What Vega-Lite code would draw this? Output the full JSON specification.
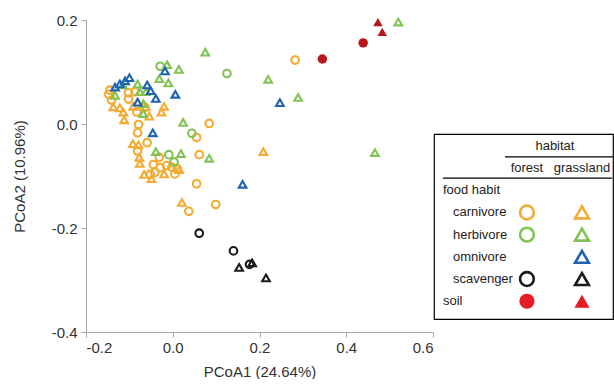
{
  "$schema": "https://vega.github.io/schema/vega-lite/v6.json",
  "padding": {"left": 12, "top": 13, "right": 0, "bottom": 0},
  "bounds": "flush",
  "spacing": 1,
  "config": {
    "font": "Liberation Sans",
    "view": {"stroke": null},
    "axis": {"labelFont": "Liberation Sans", "titleFont": "Liberation Sans"}
  },
  "datasets": {
    "pts": [
      {"x": -0.145, "y": 0.065, "food": "carnivore", "habitat": "forest"},
      {"x": -0.141, "y": 0.046, "food": "carnivore", "habitat": "forest"},
      {"x": -0.148, "y": 0.057, "food": "carnivore", "habitat": "forest"},
      {"x": -0.102, "y": 0.060, "food": "carnivore", "habitat": "forest"},
      {"x": -0.087, "y": 0.062, "food": "carnivore", "habitat": "forest"},
      {"x": -0.102, "y": 0.048, "food": "carnivore", "habitat": "forest"},
      {"x": -0.083, "y": 0.023, "food": "carnivore", "habitat": "forest"},
      {"x": -0.064, "y": 0.032, "food": "carnivore", "habitat": "forest"},
      {"x": -0.079, "y": -0.001, "food": "carnivore", "habitat": "forest"},
      {"x": -0.081, "y": -0.017, "food": "carnivore", "habitat": "forest"},
      {"x": -0.059, "y": -0.036, "food": "carnivore", "habitat": "forest"},
      {"x": -0.081, "y": -0.052, "food": "carnivore", "habitat": "forest"},
      {"x": -0.031, "y": -0.064, "food": "carnivore", "habitat": "forest"},
      {"x": -0.045, "y": -0.078, "food": "carnivore", "habitat": "forest"},
      {"x": -0.029, "y": -0.084, "food": "carnivore", "habitat": "forest"},
      {"x": -0.014, "y": -0.080, "food": "carnivore", "habitat": "forest"},
      {"x": -0.002, "y": -0.083, "food": "carnivore", "habitat": "forest"},
      {"x": 0.010, "y": -0.086, "food": "carnivore", "habitat": "forest"},
      {"x": -0.041, "y": -0.093, "food": "carnivore", "habitat": "forest"},
      {"x": -0.052, "y": -0.097, "food": "carnivore", "habitat": "forest"},
      {"x": 0.005, "y": -0.096, "food": "carnivore", "habitat": "forest"},
      {"x": 0.055, "y": -0.115, "food": "carnivore", "habitat": "forest"},
      {"x": 0.037, "y": -0.168, "food": "carnivore", "habitat": "forest"},
      {"x": 0.099, "y": -0.155, "food": "carnivore", "habitat": "forest"},
      {"x": 0.061, "y": -0.059, "food": "carnivore", "habitat": "forest"},
      {"x": 0.084, "y": 0.001, "food": "carnivore", "habitat": "forest"},
      {"x": 0.055, "y": -0.026, "food": "carnivore", "habitat": "forest"},
      {"x": 0.282, "y": 0.123, "food": "carnivore", "habitat": "forest"},
      {"x": -0.137, "y": 0.033, "food": "carnivore", "habitat": "grassland"},
      {"x": -0.122, "y": 0.031, "food": "carnivore", "habitat": "grassland"},
      {"x": -0.114, "y": 0.023, "food": "carnivore", "habitat": "grassland"},
      {"x": -0.112, "y": 0.008, "food": "carnivore", "habitat": "grassland"},
      {"x": -0.091, "y": 0.034, "food": "carnivore", "habitat": "grassland"},
      {"x": -0.092, "y": -0.038, "food": "carnivore", "habitat": "grassland"},
      {"x": -0.079, "y": -0.040, "food": "carnivore", "habitat": "grassland"},
      {"x": -0.077, "y": -0.064, "food": "carnivore", "habitat": "grassland"},
      {"x": -0.076, "y": -0.076, "food": "carnivore", "habitat": "grassland"},
      {"x": -0.066, "y": -0.097, "food": "carnivore", "habitat": "grassland"},
      {"x": -0.049, "y": -0.105, "food": "carnivore", "habitat": "grassland"},
      {"x": -0.020, "y": -0.096, "food": "carnivore", "habitat": "grassland"},
      {"x": 0.015, "y": -0.088, "food": "carnivore", "habitat": "grassland"},
      {"x": -0.054, "y": 0.015, "food": "carnivore", "habitat": "grassland"},
      {"x": -0.062, "y": 0.033, "food": "carnivore", "habitat": "grassland"},
      {"x": -0.020, "y": 0.034, "food": "carnivore", "habitat": "grassland"},
      {"x": -0.026, "y": 0.023, "food": "carnivore", "habitat": "grassland"},
      {"x": 0.021, "y": -0.151, "food": "carnivore", "habitat": "grassland"},
      {"x": 0.209, "y": -0.053, "food": "carnivore", "habitat": "grassland"},
      {"x": -0.029, "y": 0.111, "food": "herbivore", "habitat": "forest"},
      {"x": 0.125, "y": 0.097, "food": "herbivore", "habitat": "forest"},
      {"x": 0.044, "y": -0.018, "food": "herbivore", "habitat": "forest"},
      {"x": -0.009, "y": -0.059, "food": "herbivore", "habitat": "forest"},
      {"x": 0.003, "y": -0.073, "food": "herbivore", "habitat": "forest"},
      {"x": 0.075, "y": 0.138, "food": "herbivore", "habitat": "grassland"},
      {"x": -0.013, "y": 0.114, "food": "herbivore", "habitat": "grassland"},
      {"x": 0.014, "y": 0.105, "food": "herbivore", "habitat": "grassland"},
      {"x": -0.031, "y": 0.087, "food": "herbivore", "habitat": "grassland"},
      {"x": -0.010, "y": 0.079, "food": "herbivore", "habitat": "grassland"},
      {"x": 0.220, "y": 0.086, "food": "herbivore", "habitat": "grassland"},
      {"x": 0.289, "y": 0.051, "food": "herbivore", "habitat": "grassland"},
      {"x": 0.520, "y": 0.196, "food": "herbivore", "habitat": "grassland"},
      {"x": 0.466, "y": -0.055, "food": "herbivore", "habitat": "grassland"},
      {"x": -0.115, "y": 0.075, "food": "herbivore", "habitat": "grassland"},
      {"x": -0.081, "y": 0.077, "food": "herbivore", "habitat": "grassland"},
      {"x": -0.076, "y": 0.062, "food": "herbivore", "habitat": "grassland"},
      {"x": -0.062, "y": 0.062, "food": "herbivore", "habitat": "grassland"},
      {"x": -0.133, "y": 0.055, "food": "herbivore", "habitat": "grassland"},
      {"x": -0.068, "y": 0.039, "food": "herbivore", "habitat": "grassland"},
      {"x": -0.068, "y": 0.020, "food": "herbivore", "habitat": "grassland"},
      {"x": 0.024, "y": 0.003, "food": "herbivore", "habitat": "grassland"},
      {"x": -0.039, "y": -0.053, "food": "herbivore", "habitat": "grassland"},
      {"x": 0.019, "y": -0.057, "food": "herbivore", "habitat": "grassland"},
      {"x": 0.084, "y": -0.066, "food": "herbivore", "habitat": "grassland"},
      {"x": -0.100, "y": 0.089, "food": "omnivore", "habitat": "grassland"},
      {"x": -0.110, "y": 0.083, "food": "omnivore", "habitat": "grassland"},
      {"x": -0.122, "y": 0.077, "food": "omnivore", "habitat": "grassland"},
      {"x": -0.133, "y": 0.071, "food": "omnivore", "habitat": "grassland"},
      {"x": -0.059, "y": 0.075, "food": "omnivore", "habitat": "grassland"},
      {"x": -0.051, "y": 0.064, "food": "omnivore", "habitat": "grassland"},
      {"x": -0.018, "y": 0.102, "food": "omnivore", "habitat": "grassland"},
      {"x": 0.006, "y": 0.057, "food": "omnivore", "habitat": "grassland"},
      {"x": -0.039, "y": 0.049, "food": "omnivore", "habitat": "grassland"},
      {"x": -0.081, "y": 0.042, "food": "omnivore", "habitat": "grassland"},
      {"x": -0.046, "y": -0.017, "food": "omnivore", "habitat": "grassland"},
      {"x": 0.161, "y": -0.116, "food": "omnivore", "habitat": "grassland"},
      {"x": 0.247, "y": 0.041, "food": "omnivore", "habitat": "grassland"},
      {"x": 0.061, "y": -0.210, "food": "scavenger", "habitat": "forest"},
      {"x": 0.140, "y": -0.244, "food": "scavenger", "habitat": "forest"},
      {"x": 0.177, "y": -0.270, "food": "scavenger", "habitat": "forest"},
      {"x": 0.153, "y": -0.276, "food": "scavenger", "habitat": "grassland"},
      {"x": 0.183, "y": -0.267, "food": "scavenger", "habitat": "grassland"},
      {"x": 0.215, "y": -0.296, "food": "scavenger", "habitat": "grassland"},
      {"x": 0.345, "y": 0.125, "food": "soil", "habitat": "forest"},
      {"x": 0.439, "y": 0.156, "food": "soil", "habitat": "forest"},
      {"x": 0.473, "y": 0.196, "food": "soil", "habitat": "grassland"},
      {"x": 0.483, "y": 0.177, "food": "soil", "habitat": "grassland"}
    ],
    "leg": [
      {"kind": "head", "row": "habitat", "col": "forest", "label": "habitat"},
      {"kind": "sub", "row": "sub", "col": "forest", "label": "forest"},
      {"kind": "sub", "row": "sub", "col": "grassland", "label": "grassland"},
      {"kind": "group", "row": "food habit", "col": "label", "label": "food habit"},
      {"kind": "group", "row": "soil", "col": "label", "label": "soil"},
      {"kind": "item", "row": "carnivore", "col": "label", "label": "carnivore"},
      {"kind": "item", "row": "herbivore", "col": "label", "label": "herbivore"},
      {"kind": "item", "row": "omnivore", "col": "label", "label": "omnivore"},
      {"kind": "item", "row": "scavenger", "col": "label", "label": "scavenger"},
      {"kind": "sym", "row": "carnivore", "col": "forest", "food": "carnivore", "habitat": "forest"},
      {"kind": "sym", "row": "carnivore", "col": "grassland", "food": "carnivore", "habitat": "grassland"},
      {"kind": "sym", "row": "herbivore", "col": "forest", "food": "herbivore", "habitat": "forest"},
      {"kind": "sym", "row": "herbivore", "col": "grassland", "food": "herbivore", "habitat": "grassland"},
      {"kind": "sym", "row": "omnivore", "col": "grassland", "food": "omnivore", "habitat": "grassland"},
      {"kind": "sym", "row": "scavenger", "col": "forest", "food": "scavenger", "habitat": "forest"},
      {"kind": "sym", "row": "scavenger", "col": "grassland", "food": "scavenger", "habitat": "grassland"},
      {"kind": "soil", "row": "soil", "col": "forest", "food": "soil", "habitat": "forest"},
      {"kind": "soil", "row": "soil", "col": "grassland", "food": "soil", "habitat": "grassland"},
      {"kind": "rule1", "row": "habitat", "col": "forest", "col2": "grassland"},
      {"kind": "rule2", "row": "sub", "col": "label", "col2": "grassland"}
    ]
  },
  "hconcat": [
    {
      "width": 347,
      "height": 312,
      "data": {"name": "pts"},
      "encoding": {
        "x": {"field": "x", "type": "quantitative",
          "scale": {"domain": [-0.2, 0.6], "nice": false, "zero": false},
          "axis": {"title": "PCoA1 (24.64%)", "values": [-0.2, 0, 0.2, 0.4, 0.6], "grid": false,
            "domainColor": "#a6a6a6", "tickColor": "#a6a6a6", "tickSize": 5,
            "labelFontSize": 15, "titleFontSize": 15, "titleFontWeight": "normal",
            "labelColor": "#333333", "titleColor": "#333333", "labelPadding": 3, "titlePadding": 9,
            "labelExpr": "replace(datum.label, '−', '-')"}},
        "y": {"field": "y", "type": "quantitative",
          "scale": {"domain": [-0.4, 0.2], "nice": false, "zero": false},
          "axis": {"title": "PCoA2 (10.96%)", "values": [-0.4, -0.2, 0, 0.2], "grid": false,
            "domainColor": "#a6a6a6", "tickColor": "#a6a6a6", "tickSize": 5,
            "labelFontSize": 15, "titleFontSize": 15, "titleFontWeight": "normal",
            "labelColor": "#333333", "titleColor": "#333333", "labelPadding": 4, "titlePadding": 24,
            "labelExpr": "replace(datum.label, '−', '-')"}},
        "shape": {"field": "habitat", "type": "nominal", "legend": null,
          "scale": {"domain": ["forest", "grassland"], "range": ["circle", "triangle-up"]}}
      },
      "layer": [
        {
          "transform": [{"filter": "datum.food != 'soil'"}],
          "mark": {"type": "point", "filled": false, "strokeWidth": 2.1, "size": 58, "opacity": 1},
          "encoding": {
            "color": {"field": "food", "type": "nominal", "legend": null,
              "scale": {"domain": ["carnivore", "herbivore", "omnivore", "scavenger"],
                "range": ["#F5AA32", "#82C355", "#1E64AF", "#1A1A1A"]}}
          }
        },
        {
          "transform": [{"filter": "datum.food == 'soil'"}],
          "mark": {"type": "point", "filled": true, "size": 90, "opacity": 1, "color": "#B8171F"},
          "encoding": {}
        }
      ]
    },
    {
      "spacing": 0,
      "vconcat": [
        {
          "width": 179,
          "height": 113,
          "data": {"values": []},
          "mark": "text",
          "encoding": {}
        },
        {
          "width": 179,
          "height": 185,
          "view": {"stroke": "#000000", "strokeWidth": 1.2},
          "data": {"name": "leg"},
          "encoding": {
            "y": {"field": "row", "type": "nominal", "axis": null,
              "scale": {"type": "point", "domain": ["habitat", "sub", "food habit", "carnivore", "herbivore", "omnivore", "scavenger", "soil"], "padding": 0.667, "align": 0.4}},
            "x": {"field": "col", "type": "nominal", "axis": null,
              "scale": {"type": "point", "domain": ["label", "forest", "grassland"], "padding": 0.627, "align": 0.55}}
          },
          "layer": [
            {
              "transform": [{"filter": "datum.kind == 'head'"}],
              "mark": {"type": "text", "fontSize": 13, "color": "#222222", "align": "center", "baseline": "middle", "xOffset": 28},
              "encoding": {"text": {"field": "label"}}
            },
            {
              "transform": [{"filter": "datum.kind == 'sub'"}],
              "mark": {"type": "text", "fontSize": 13, "color": "#222222", "align": "center", "baseline": "middle"},
              "encoding": {"text": {"field": "label"}}
            },
            {
              "transform": [{"filter": "datum.kind == 'group'"}],
              "mark": {"type": "text", "fontSize": 13, "color": "#222222", "align": "left", "baseline": "middle", "dx": -29},
              "encoding": {"text": {"field": "label"}}
            },
            {
              "transform": [{"filter": "datum.kind == 'item'"}],
              "mark": {"type": "text", "fontSize": 13, "color": "#222222", "align": "left", "baseline": "middle", "dx": -19},
              "encoding": {"text": {"field": "label"}}
            },
            {
              "transform": [{"filter": "datum.kind == 'sym'"}],
              "mark": {"type": "point", "filled": false, "strokeWidth": 2.6, "size": 190, "opacity": 1},
              "encoding": {
                "color": {"field": "food", "type": "nominal", "legend": null},
                "shape": {"field": "habitat", "type": "nominal", "legend": null}
              }
            },
            {
              "transform": [{"filter": "datum.kind == 'soil'"}],
              "mark": {"type": "point", "filled": true, "size": 230, "opacity": 1, "color": "#E31E24"},
              "encoding": {
                "shape": {"field": "habitat", "type": "nominal", "legend": null}
              }
            },
            {
              "transform": [{"filter": "datum.kind == 'rule1'"}],
              "mark": {"type": "rule", "color": "#000000", "strokeWidth": 1.2, "xOffset": -22, "x2Offset": 31, "yOffset": 11},
              "encoding": {"x2": {"field": "col2"}}
            },
            {
              "transform": [{"filter": "datum.kind == 'rule2'"}],
              "mark": {"type": "rule", "color": "#000000", "strokeWidth": 1.2, "xOffset": -29, "x2Offset": 30, "yOffset": 10},
              "encoding": {"x2": {"field": "col2"}}
            }
          ]
        }
      ]
    }
  ]
}
